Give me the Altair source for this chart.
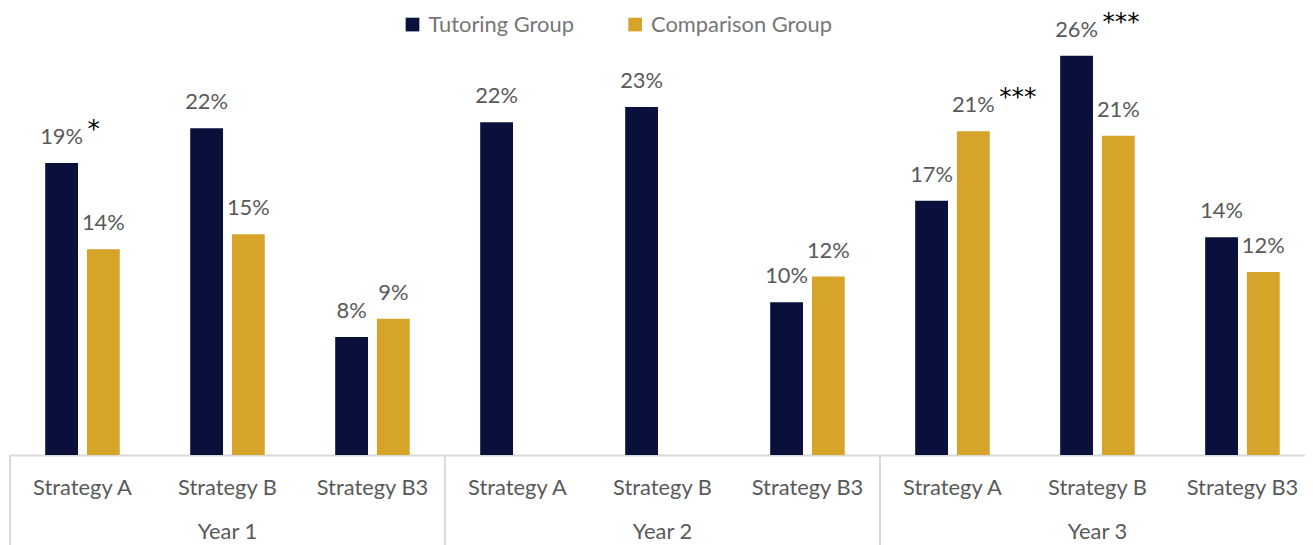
import altair as alt
import pandas as pd

FONT = "Lato"
FS = 22

years = ["Year 1"] * 3 + ["Year 2"] * 3 + ["Year 3"] * 3
strategies = ["Strategy A", "Strategy B", "Strategy B3"] * 3
tutoring = [0.193, 0.216, 0.078, 0.220, 0.230, 0.101, 0.168, 0.264, 0.144]
comparison = [0.136, 0.146, 0.090, None, None, 0.118, 0.214, 0.211, 0.121]
tutoring_stars = ["*", "", "", "", "", "", "", "***", ""]
comparison_stars = ["", "", "", "", "", "", "***", "", ""]
groups = ["Tutoring Group", "Comparison Group"]
colors = ["#09103b", "#d7a42a"]

keys = [f"{y}|{s}" for y, s in zip(years, strategies)]
rows = []
for i, k in enumerate(keys):
    for g, vals, stars in ((groups[0], tutoring, tutoring_stars),
                           (groups[1], comparison, comparison_stars)):
        if vals[i] is None:
            continue
        rows.append(dict(key=k, year=years[i], strategy=strategies[i],
                         group=g, value=vals[i], stars=stars[i]))
df = pd.DataFrame(rows)

sep_df = pd.DataFrame({"key": [keys[0], keys[3], keys[6]]})
year_df = pd.DataFrame({"key": [keys[1], keys[4], keys[7]],
                        "year": ["Year 1", "Year 2", "Year 3"]})

H = 426
xscale = alt.Scale(domain=keys, range=[0, 1313], paddingInner=0, paddingOuter=0)
xaxis = alt.Axis(title=None, labelExpr="split(datum.label, '|')[1]", labelAngle=0,
                 ticks=False, domainColor="#d9d9d9", domainWidth=2, labelFontSize=FS,
                 labelColor="#595959", labelPadding=23, labelFont=FONT, grid=False)
xoff = alt.XOffset("group:N", sort=groups,
                   scale=alt.Scale(domain=groups, paddingInner=0.214, paddingOuter=0.844))
yenc = alt.Y("value:Q", scale=alt.Scale(domain=[0, 0.28], nice=False), axis=None)

base = alt.Chart(df)

bars = base.mark_bar().encode(
    x=alt.X("key:N", scale=xscale, axis=xaxis),
    xOffset=xoff,
    y=yenc,
    color=alt.Color("group:N", scale=alt.Scale(domain=groups, range=colors),
                    legend=alt.Legend(title=None, orient="none", legendX=394, legendY=-18,
                                      direction="horizontal", symbolType="square",
                                      symbolSize=190, symbolStrokeWidth=0,
                                      labelFontSize=FS, labelColor="#767676",
                                      labelFont=FONT, labelOffset=5, columnPadding=50,
                                      labelLimit=400, padding=0)),
)

labels = base.mark_text(baseline="middle", dy=-26, fontSize=FS, color="#595959",
                        font=FONT).encode(
    x=alt.X("key:N", scale=xscale, axis=xaxis),
    xOffset=xoff,
    y=yenc,
    text=alt.Text("value:Q", format=".0%"),
)

stars = base.transform_filter("datum.stars != ''").mark_text(
    baseline="top", align="left", dx=26, dy=-46, fontSize=25, color="#000000",
    font="DejaVu Sans").encode(
    x=alt.X("key:N", scale=xscale, axis=xaxis),
    xOffset=xoff,
    y=yenc,
    text="stars:N",
)

seps = alt.Chart(sep_df).mark_rule(color="#d9d9d9", strokeWidth=2).encode(
    x=alt.X("key:N", scale=xscale, axis=xaxis, bandPosition=0),
    y=alt.value(H),
    y2=alt.value(H + 130),
)

year_text = alt.Chart(year_df).mark_text(baseline="middle", fontSize=FS,
                                         color="#595959", font=FONT).encode(
    x=alt.X("key:N", scale=xscale, axis=xaxis),
    y=alt.value(H + 78),
    text="year:N",
)

chart = alt.layer(seps, bars, labels, stars, year_text).properties(
    width=1303, height=H,
    padding={"left": 2, "top": 22, "right": 0, "bottom": 89},
    autosize=alt.AutoSizeParams(type="none"),
).configure(font=FONT).configure_view(stroke="transparent", strokeWidth=0)

chart.save("out.html", embed_options={"renderer": "svg", "actions": False})
